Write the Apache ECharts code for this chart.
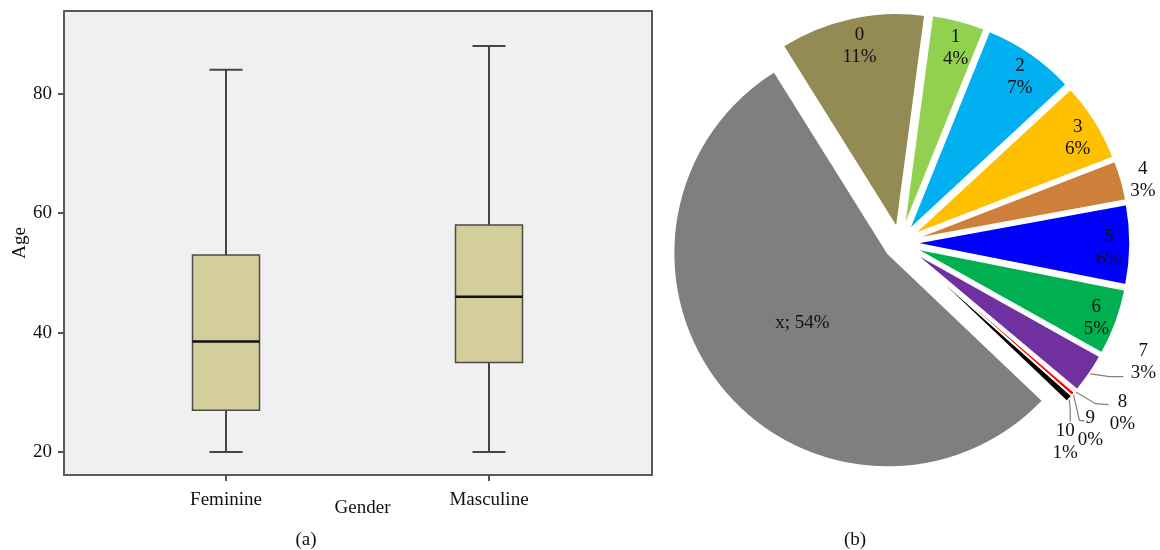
<!DOCTYPE html>
<html>
<head>
<meta charset="utf-8">
<script src="https://cdn.jsdelivr.net/npm/echarts@6/dist/echarts.min.js"></script>
<style>
html,body{margin:0;padding:0;background:#ffffff;}
#chart{width:1160px;height:550px;}
</style>
</head>
<body>
<div id="chart"></div>
<script>
// ---------- data: panel (a) box plot ----------
const genders = ['Feminine', 'Masculine'];
const ageMin = [20, 20];
const ageQ1 = [27, 35];
const ageMedian = [38.5, 46];
const ageQ3 = [53, 58];
const ageMax = [84, 88];
const ageTicks = [20, 40, 60, 80];

// ---------- data: panel (b) pie ----------
const sliceNames = ['0', '1', '2', '3', '4', '5', '6', '7', '8', '9', '10', 'x'];
const sliceValues = [11, 4, 7, 6, 3, 6, 5, 3, 0.15, 0.3, 0.55, 54];
const sliceColors = ['#948a54', '#92d050', '#00b0f0', '#ffc000', '#cf7f3c', '#0000ff',
                     '#00b050', '#7030a0', '#f6a7b8', '#ff0000', '#000000', '#7f7f7f'];

const FONT = 'Liberation Serif';
const chart = echarts.init(document.getElementById('chart'), null, {renderer: 'canvas'});

const boxData = genders.map((g, i) => [i, ageMin[i], ageQ1[i], ageMedian[i], ageQ3[i], ageMax[i]]);

// label placement styles for the pie
const insideSet = ['0', '1', '2', '3', '5', '6'];
const calloutStyle = {
  '7':  {mid: [20, 3],  end: [34, 3],  text: [54, -12]},
  '8':  {mid: [20, 12], end: [33, 13], text: [47, 21]},
  '9':  {mid: [6, 26],  end: [11, 27], text: [17, 35]},
  '10': {mid: [1, 12],  end: [1, 23],  text: [-4, 43]}
};

const pieCenter = [900, 243];
const pieR = 214;
const explode = 16;

const mainPieData = sliceNames.map((n, i) => ({
  name: n, value: sliceValues[i], selected: true,
  itemStyle: {color: sliceColors[i]},
  label: {show: n === 'x'}
}));

const labelPieData = sliceNames.map((n, i) => {
  const item = {name: n, value: sliceValues[i]};
  if (insideSet.indexOf(n) >= 0) {
    item.label = {show: true, position: 'inside', offset: [3, 4]};
    item.labelLine = {show: false};
  } else if (n === '4') {
    item.label = {show: true, position: 'outside'};
    item.labelLine = {show: false, length: 3, length2: 1};
  } else if (calloutStyle[n]) {
    item.label = {show: true, position: 'outside'};
    item.labelLine = {show: true, length: 10, length2: 10};
  } else {
    item.label = {show: false};
    item.labelLine = {show: false};
  }
  return item;
});

const option = {
  animation: false,
  grid: [
    {left: 64, top: 11, width: 588, height: 464, show: true, outerBoundsMode: 'none',
     backgroundColor: '#f0f0f0', borderColor: '#5a5a5a', borderWidth: 2},
    {left: 226, top: 11, width: 263, height: 464, outerBoundsMode: 'none'}
  ],
  xAxis: [
    {gridIndex: 0, type: 'category', data: genders, show: false},
    {gridIndex: 1, type: 'category', data: genders, boundaryGap: false,
     axisLine: {show: false},
     axisTick: {show: true, length: 6, lineStyle: {color: '#555', width: 2}},
     axisLabel: {margin: 16, fontFamily: FONT, fontSize: 19, color: '#111'},
     name: 'Gender', nameLocation: 'middle', nameGap: 24, nameMoveOverlap: false,
     nameTextStyle: {fontFamily: FONT, fontSize: 19, color: '#111', padding: [0, 0, 0, 10]}}
  ],
  yAxis: [
    {gridIndex: 0, type: 'value', min: 16.15, max: 93.85,
     axisLine: {show: false},
     axisTick: {show: true, length: 6, customValues: ageTicks, lineStyle: {color: '#555', width: 2}},
     axisLabel: {customValues: ageTicks, margin: 12, fontFamily: FONT, fontSize: 19, color: '#111'},
     splitLine: {show: false},
     name: 'Age', nameLocation: 'middle', nameGap: 34.5, nameMoveOverlap: false,
     nameTextStyle: {fontFamily: FONT, fontSize: 19, color: '#111'}},
    {gridIndex: 1, type: 'value', min: 16.15, max: 93.85, show: false}
  ],
  series: [
    {
      type: 'custom',
      xAxisIndex: 1, yAxisIndex: 1,
      data: boxData,
      encode: {x: 0, y: [1, 2, 3, 4, 5]},
      renderItem: function (params, api) {
        const i = api.value(0);
        const pMin = api.coord([i, api.value(1)]);
        const pQ1 = api.coord([i, api.value(2)]);
        const pMed = api.coord([i, api.value(3)]);
        const pQ3 = api.coord([i, api.value(4)]);
        const pMax = api.coord([i, api.value(5)]);
        const x = pMed[0];
        const bw = 67, cw = 33;
        const ls = {stroke: '#444', lineWidth: 2};
        return {
          type: 'group',
          children: [
            {type: 'line', shape: {x1: x, y1: pMax[1], x2: x, y2: pQ3[1]}, style: ls},
            {type: 'line', shape: {x1: x, y1: pQ1[1], x2: x, y2: pMin[1]}, style: ls},
            {type: 'line', shape: {x1: x - cw / 2, y1: pMax[1], x2: x + cw / 2, y2: pMax[1]}, style: ls},
            {type: 'line', shape: {x1: x - cw / 2, y1: pMin[1], x2: x + cw / 2, y2: pMin[1]}, style: ls},
            {type: 'rect', shape: {x: x - bw / 2, y: pQ3[1], width: bw, height: pQ1[1] - pQ3[1]},
             style: {fill: '#d3ce9a', stroke: '#4a4a4a', lineWidth: 1.5}},
            {type: 'line', shape: {x1: x - bw / 2, y1: pMed[1], x2: x + bw / 2, y2: pMed[1]},
             style: {stroke: '#111', lineWidth: 2.5}}
          ]
        };
      }
    },
    {
      type: 'pie',
      center: pieCenter,
      radius: [0, pieR],
      startAngle: 122,
      clockwise: true,
      selectedMode: 'multiple',
      selectedOffset: explode,
      avoidLabelOverlap: false,
      percentPrecision: 0,
      itemStyle: {borderColor: '#ffffff', borderWidth: 1.5},
      label: {show: false, position: 'inside', formatter: '{b}; {d}%',
              fontFamily: FONT, fontSize: 19, color: '#111'},
      labelLine: {show: false},
      emphasis: {disabled: true},
      data: mainPieData
    },
    {
      // transparent ring carrying the slice labels (outer edge = exploded slice edge)
      type: 'pie',
      silent: true,
      center: pieCenter,
      radius: [pieR + explode - 54, pieR + explode],
      startAngle: 122,
      clockwise: true,
      avoidLabelOverlap: false,
      percentPrecision: 0,
      itemStyle: {color: 'rgba(0,0,0,0)', borderWidth: 0},
      label: {formatter: '{b}\n{d}%', fontFamily: FONT, fontSize: 19, lineHeight: 22,
              color: '#111', align: 'center'},
      labelLine: {lineStyle: {color: '#808080', width: 1.2}, smooth: false},
      emphasis: {disabled: true},
      labelLayout: function (p) {
        const name = sliceNames[p.dataIndex];
        if (name === '4') {
          return {x: p.labelRect.x + p.labelRect.width / 2, y: p.labelRect.y + p.labelRect.height / 2,
                  align: 'center', verticalAlign: 'middle'};
        }
        const cs = calloutStyle[name];
        if (cs && p.labelLinePoints) {
          const p0 = p.labelLinePoints[0];
          return {
            x: p0[0] + cs.text[0], y: p0[1] + cs.text[1],
            align: 'center', verticalAlign: 'middle',
            labelLinePoints: [
              [p0[0], p0[1]],
              [p0[0] + cs.mid[0], p0[1] + cs.mid[1]],
              [p0[0] + cs.end[0], p0[1] + cs.end[1]]
            ]
          };
        }
        return {};
      },
      data: labelPieData
    }
  ],
  graphic: [
    {type: 'text', x: 306, y: 540, style: {text: '(a)', fontFamily: FONT, fontSize: 19, fill: '#111',
      align: 'center', verticalAlign: 'middle'}},
    {type: 'text', x: 855, y: 540, style: {text: '(b)', fontFamily: FONT, fontSize: 19, fill: '#111',
      align: 'center', verticalAlign: 'middle'}}
  ]
};

chart.setOption(option);
</script>
</body>
</html>
